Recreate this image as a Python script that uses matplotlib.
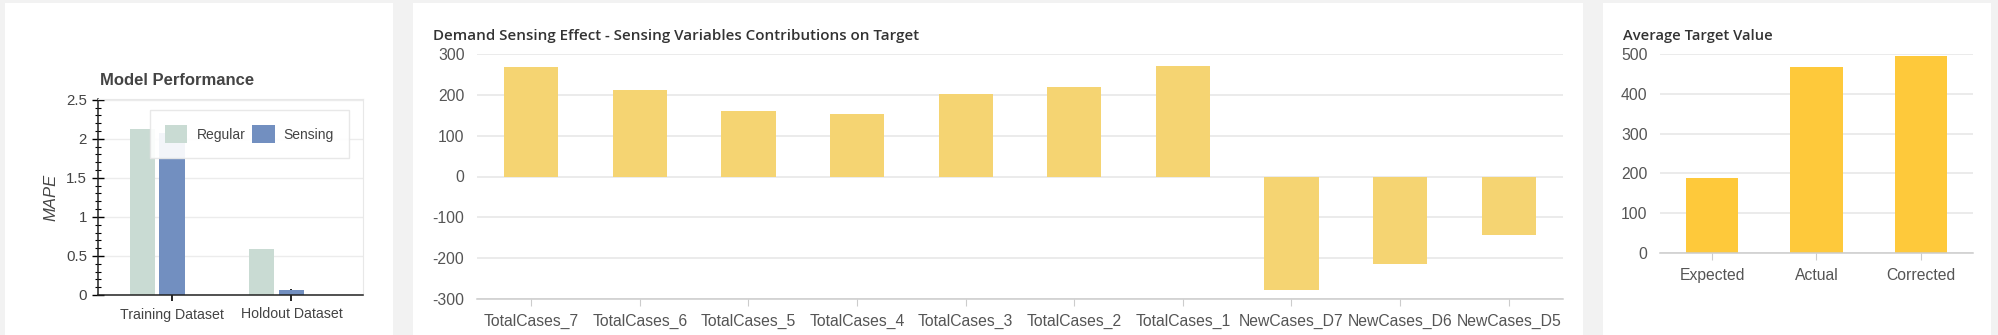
import matplotlib
matplotlib.use("Agg")
import matplotlib.pyplot as plt
from matplotlib.patches import Rectangle
from matplotlib.ticker import MultipleLocator

plt.rcParams["axes.unicode_minus"] = False

# model performance (MAPE)
perf_datasets = ["Training Dataset", "Holdout Dataset"]
mape_regular = [2.13, 0.59]
mape_sensing = [2.08, 0.07]

# sensing variable contributions
contrib_vars = ["TotalCases_7", "TotalCases_6", "TotalCases_5", "TotalCases_4",
                "TotalCases_3", "TotalCases_2", "TotalCases_1",
                "NewCases_D7", "NewCases_D6", "NewCases_D5"]
contrib_vals = [269, 213, 161, 152, 202, 219, 270, -279, -214, -143]

# average target value
avg_labels = ["Expected", "Actual", "Corrected"]
avg_vals = [189, 467, 496]

W, H = 1999, 335
fig = plt.figure(figsize=(W / 100, H / 100), dpi=100)
fig.patch.set_facecolor("#f2f2f2")

def px_axes(x0, y0, x1, y1):
    # pixel box (top-left origin) -> figure axes
    ax = fig.add_axes([x0 / W, 1 - y1 / H, (x1 - x0) / W, (y1 - y0) / H])
    ax.set_zorder(2)
    ax.patch.set_alpha(0)
    return ax

# white cards
for cx0, cx1 in [(5, 393), (413, 1583), (1603, 1991)]:
    fig.patches.append(Rectangle((cx0 / W, 0), (cx1 - cx0) / W, 1 - 3 / H,
                                 transform=fig.transFigure, facecolor="white",
                                 edgecolor="none", zorder=-1))

tick_font = "Liberation Sans"
title_font = ["Open Sans", "Noto Sans", "DejaVu Sans"]
grid_c = "#e6e6e6"
lab_c = "#555555"

# ---- Model Performance ----
ax1 = px_axes(98, 99, 363, 295)
x = range(len(perf_datasets))
ax1.bar([i - 0.25 for i in x], mape_regular, width=0.21, color="#c9dbd3",
        label="Regular", zorder=2)
ax1.bar(list(x), mape_sensing, width=0.21, color="#728fc0", label="Sensing", zorder=2)
ax1.set_xlim(-0.62, 1.6)
ax1.set_ylim(0, 2.51)
ax1.set_xticks(list(x))
ax1.set_xticklabels(perf_datasets, fontfamily=tick_font, fontsize=10.2, color="#444444")
ax1.yaxis.set_minor_locator(MultipleLocator(0.1))
ax1.set_yticks([0, 0.5, 1, 1.5, 2, 2.5])
ax1.set_yticklabels(["0", "0.5", "1", "1.5", "2", "2.5"])
for lab in ax1.get_yticklabels():
    lab.set_fontfamily(tick_font)
    lab.set_fontsize(10.8)
    lab.set_color("#444444")
ax1.tick_params(axis="y", which="major", direction="inout", length=8, width=1, pad=4)
ax1.tick_params(axis="y", which="minor", direction="inout", length=5, width=0.8)
ax1.tick_params(axis="x", which="major", direction="inout", length=8, width=1.2, pad=5)
ax1.grid(axis="y", color="#ececec", linewidth=1.0, zorder=0)
ax1.set_axisbelow(True)
for s in ["left", "bottom"]:
    ax1.spines[s].set_color("#222222")
    ax1.spines[s].set_linewidth(1.1)
for s in ["top", "right"]:
    ax1.spines[s].set_color("#e8e8e8")
ax1.set_ylabel("MAPE", fontfamily=tick_font, fontsize=12, style="italic",
               color="#444444", labelpad=5)
leg = ax1.legend(loc="upper left", bbox_to_anchor=(0.196, 0.944), borderaxespad=0,
                 ncol=2, fancybox=False, framealpha=0.92, edgecolor="#e6e6e6",
                 prop={"family": tick_font, "size": 10}, handlelength=1.6,
                 handleheight=1.6, handletextpad=0.65, columnspacing=0.5,
                 borderpad=1.1)
for t in leg.get_texts():
    t.set_color("#444444")
fig.text(100 / W, 1 - 81 / H, "Model Performance", fontfamily=tick_font,
         fontsize=12, fontweight="bold", color="#444444", va="center", ha="left")

# ---- Demand Sensing Effect ----
ax2 = px_axes(477, 54, 1563, 299)
ax2.bar(range(len(contrib_vars)), contrib_vals, width=0.5, color="#f5d472", zorder=2)
ax2.set_xlim(-0.5, len(contrib_vars) - 0.5)
ax2.set_ylim(-300, 300)
ax2.set_yticks(range(-300, 301, 100))
ax2.set_xticks(range(len(contrib_vars)))
ax2.set_xticklabels(contrib_vars)

# ---- Average Target Value ----
ax3 = px_axes(1660, 54, 1973, 253)
ax3.bar(range(len(avg_labels)), avg_vals, width=0.5, color="#fec93b", zorder=2)
ax3.set_xlim(-0.5, len(avg_labels) - 0.5)
ax3.set_ylim(0, 500)
ax3.set_yticks(range(0, 501, 100))
ax3.set_xticks(range(len(avg_labels)))
ax3.set_xticklabels(avg_labels)

for ax in (ax2, ax3):
    ax.grid(axis="y", color=grid_c, linewidth=1.1, zorder=0)
    ax.set_axisbelow(True)
    for s in ["left", "right", "top"]:
        ax.spines[s].set_visible(False)
    ax.spines["bottom"].set_color("#cccccc")
    ax.spines["bottom"].set_linewidth(1.1)
    ax.tick_params(axis="y", length=0, pad=9)
    ax.tick_params(axis="x", length=5, color="#cccccc", pad=6)
    for lab in ax.get_xticklabels() + ax.get_yticklabels():
        lab.set_fontfamily(tick_font)
        lab.set_fontsize(11.3)
        lab.set_color(lab_c)

fig.text(433 / W, 1 - 36 / H, "Demand Sensing Effect - Sensing Variables Contributions on Target",
         fontfamily=title_font, fontsize=10.9, fontweight="semibold", color="#333333",
         va="center", ha="left")
fig.text(1623 / W, 1 - 36 / H, "Average Target Value", fontfamily=title_font,
         fontsize=10.6, fontweight="semibold", color="#333333", va="center", ha="left")

fig.savefig("out.png", dpi=100, facecolor=fig.get_facecolor())
